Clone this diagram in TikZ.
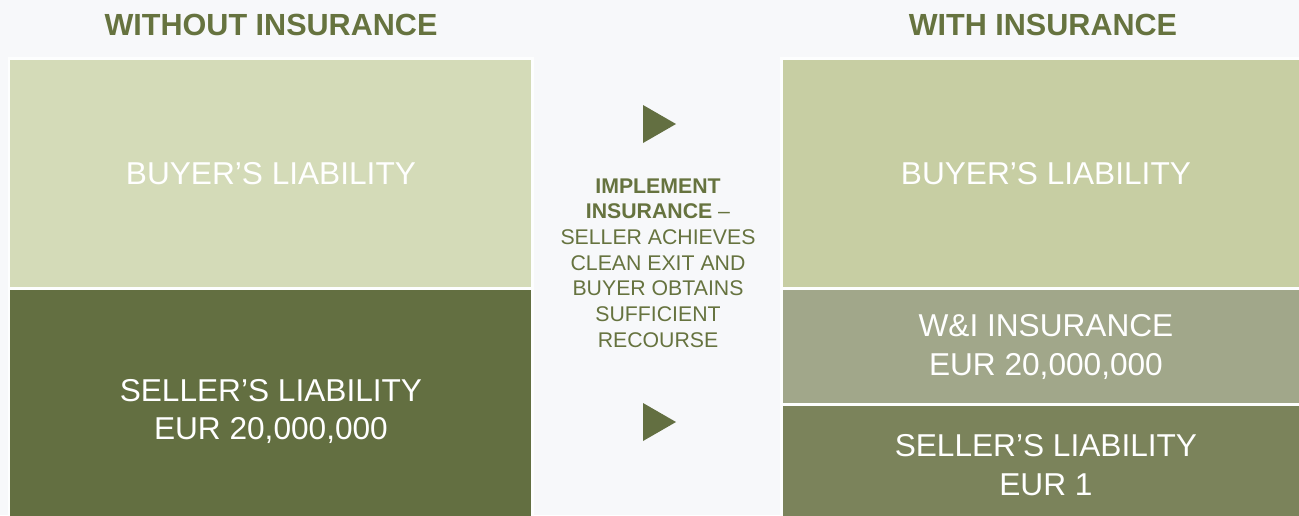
\documentclass[tikz,border=0pt]{standalone}
\usepackage{fontspec}
\setmainfont{Liberation Sans}
\usetikzlibrary{positioning}
\definecolor{pagebg}{HTML}{F7F8FA}
\definecolor{olivetext}{HTML}{66733F}
\definecolor{buyerpale}{HTML}{D4DBB8}
\definecolor{buyerlight}{HTML}{C7CEA3}
\definecolor{sellerdark}{HTML}{636F41}
\definecolor{insgrey}{HTML}{A1A78A}
\definecolor{sellermid}{HTML}{7B835B}
\tikzset{heading/.style={font=\fontsize{17.4}{20}\selectfont\bfseries,text=olivetext},
    block/.style={draw=white!80!pagebg,line width=0.06cm,text=white,align=center,
        inner sep=0pt,outer sep=0pt,font=\fontsize{18}{22}\selectfont},
    leftblock/.style={block,minimum width=10.48cm},
    rightblock/.style={block,minimum width=10.6cm},
    midtext/.style={align=center,text=olivetext,font=\fontsize{12.1}{14.6}\selectfont},
    arrowhead/.style={fill=sellerdark}}

\begin{document}
\begin{tikzpicture}[x=0.02cm,y=-0.02cm]
\fill[pagebg] (0,0) rectangle (1299,515);
\useasboundingbox (0,0) rectangle (1299,515);
% headings
\node[heading] (without) at (271,25) {WITHOUT INSURANCE};
\node[heading] (with) at (1043,25) {WITH INSURANCE};
% without insurance
\node[leftblock,fill=buyerpale,minimum height=4.62cm,anchor=north west] (buyerL) at (9,58)
    {BUYER’S LIABILITY};
\node[leftblock,fill=sellerdark,minimum height=4.9cm,below=0pt of buyerL] (sellerL)
    {SELLER’S LIABILITY\\EUR 20,000,000};
% with insurance
\node[rightblock,fill=buyerlight,minimum height=4.62cm,anchor=north west] (buyerR) at (781,58)
    {BUYER’S LIABILITY};
\node[rightblock,fill=insgrey,minimum height=2.32cm,below=0pt of buyerR] (insR)
    {W\&I INSURANCE\\EUR 20,000,000};
\node[rightblock,fill=sellermid,minimum height=2.4cm,below=0pt of insR] (sellerR)
    {SELLER’S LIABILITY\\EUR 1};
% middle
\fill[arrowhead] (643,105) -- (676,124) -- (643,143) -- cycle;
\fill[arrowhead] (643,403) -- (676,422) -- (643,441) -- cycle;
\node[midtext] (implement) at (658,263)
    {\textbf{IMPLEMENT}\\\textbf{INSURANCE} –\\SELLER ACHIEVES\\CLEAN EXIT AND\\BUYER OBTAINS\\SUFFICIENT\\RECOURSE};
\end{tikzpicture}
\end{document}
